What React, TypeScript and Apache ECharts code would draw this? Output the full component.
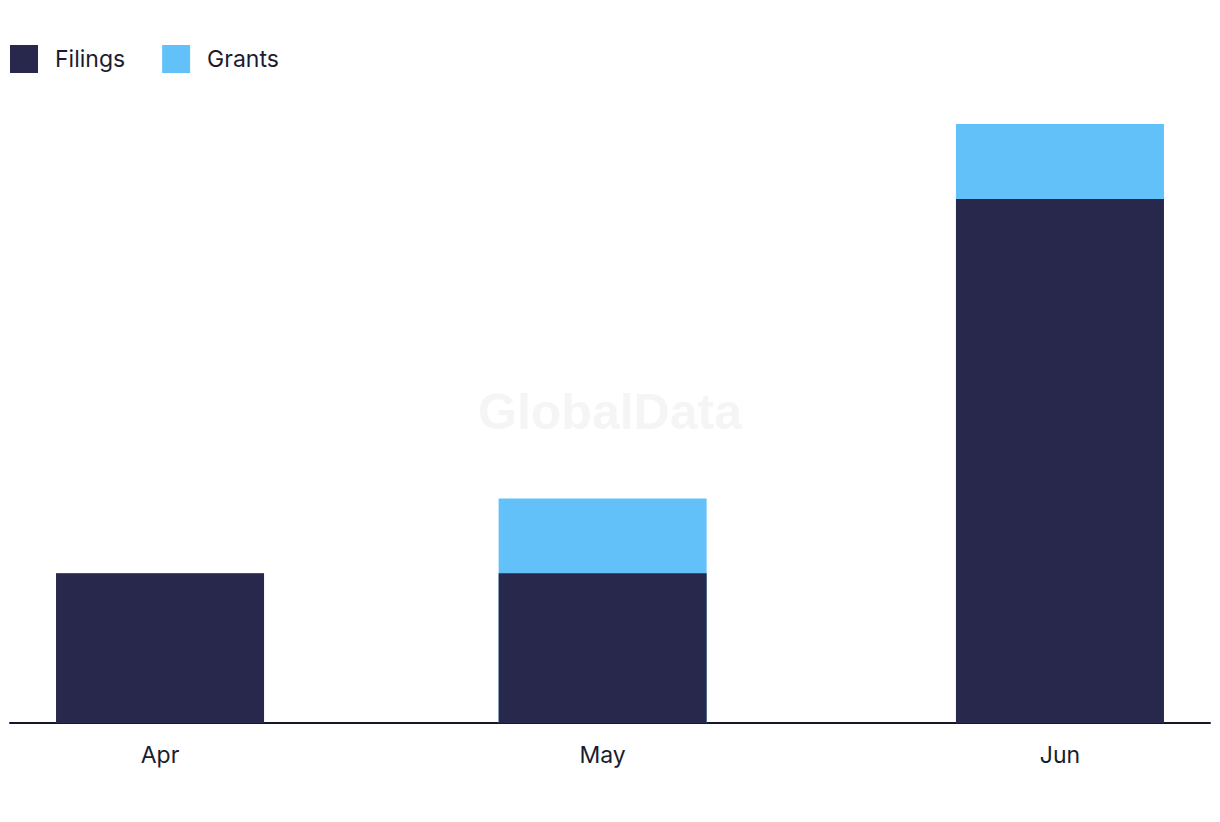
import React, { useEffect, useRef } from "react";
import * as echarts from "echarts";

const months = ["Apr", "May", "Jun"];
const monthDates = ["2024-04-01", "2024-05-01", "2024-06-01"];
const filings = [2, 2, 7];
const grants = [0, 1, 1];

const DAY = 86400000;

export default function App() {
  const ref = useRef<HTMLDivElement>(null);
  useEffect(() => {
    if (!ref.current) return;
    const chart = echarts.init(ref.current, null, { renderer: "svg" });
    const ts = monthDates.map((d) => Date.UTC(+d.slice(0, 4), +d.slice(5, 7) - 1, +d.slice(8, 10)));
    const days = ts.map((t) => Math.round((t - ts[0]) / DAY));
    const labelFor = (v: number) => {
      const i = days.findIndex((d) => Math.abs(d - v) < 0.5);
      return i >= 0 ? months[i] : "";
    };
    chart.setOption({
      animation: false,
      backgroundColor: "#ffffff",
      textStyle: { fontFamily: "Inter, 'Noto Sans', sans-serif" },
      legend: {
        left: 5,
        top: 40,
        itemWidth: 28,
        itemHeight: 28,
        itemGap: 37,
        icon: "rect",
        textStyle: { fontSize: 23, color: "#1c1c30", padding: [0, 0, 0, 12] },
        data: ["Filings", "Grants"],
      },
      graphic: [
        {
          type: "text",
          left: "center",
          top: 387,
          z: -1,
          silent: true,
          style: {
            text: "GlobalData",
            fontSize: 50,
            fontWeight: "bold",
            fontFamily: "'Liberation Sans', Arial, sans-serif",
            fill: "#f5f5f5",
          },
        },
      ],
      grid: { left: 10, right: 10, top: 124, bottom: 99, containLabel: false },
      xAxis: {
        type: "value",
        min: -10.17,
        max: 71.17,
        splitLine: { show: false },
        axisTick: { show: false },
        axisLine: { show: true, onZero: false, lineStyle: { color: "#16162a", width: 2 } },
        axisLabel: {
          customValues: days,
          formatter: (v: number) => labelFor(v),
          fontSize: 23,
          color: "#1c1c30",
          margin: 20,
          showMinLabel: true,
          showMaxLabel: true,
        },
      },
      yAxis: {
        type: "value",
        min: 0,
        max: 8,
        show: false,
        splitLine: { show: false },
      },
      series: [
        {
          name: "Grants",
          type: "bar",
          barWidth: 208,
          barGap: "-100%",
          z: 1,
          itemStyle: { color: "#62c1f9" },
          data: days.map((d, i) => [d, filings[i] + grants[i]]),
        },
        {
          name: "Filings",
          type: "bar",
          barWidth: 208,
          barGap: "-100%",
          z: 2,
          itemStyle: { color: "#27284b" },
          data: days.map((d, i) => [d, filings[i]]),
        },
      ],
    });
    return () => chart.dispose();
  }, []);
  return <div ref={ref} style={{ width: 1220, height: 822, margin: -8 }} />;
}
